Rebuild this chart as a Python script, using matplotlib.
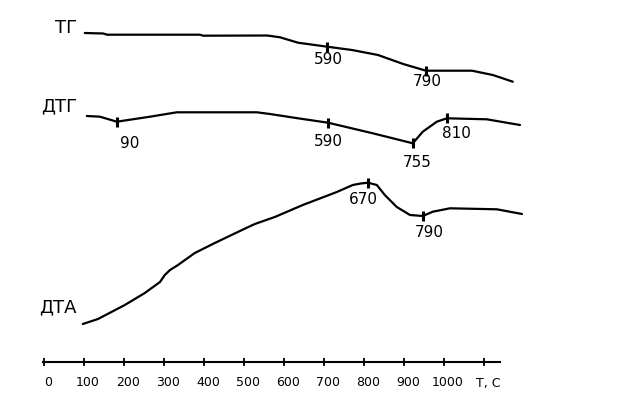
import matplotlib
matplotlib.use("Agg")
import matplotlib.pyplot as plt

# Temperature axis
axis_ticks = [0, 100, 200, 300, 400, 500, 600, 700, 800, 900, 1000, 1100]
axis_labels = ["0", "100", "200", "300", "400", "500", "600", "700", "800", "900", "1000", "T, C"]

# TG curve (x in axis temperature units, y arbitrary signal units)
tg_t = [102, 148, 158, 390, 398, 558, 590, 635, 708, 770, 835, 898, 955, 1070, 1122, 1172]
tg_y = [366, 365.5, 364.3, 364.3, 363.3, 363.5, 361.7, 356.3, 352.3, 349, 344, 335, 328.3, 328.3, 324, 317.3]
tg_mark_t = [708, 955]
tg_mark_y = [352.3, 328.3]
tg_mark_lbl = ["590", "790"]

# DTG curve
dtg_t = [107, 140, 182, 265, 332, 532, 565, 635, 710, 822, 922, 947, 982, 1007, 1107, 1190]
dtg_y = [283, 282.3, 277.3, 282.3, 286.7, 286.7, 285, 280.7, 276.3, 265.7, 255.7, 267.3, 277.3, 280.7, 279.7, 274]
dtg_mark_t = [182, 710, 922, 1007]
dtg_mark_y = [277.3, 276.3, 255.7, 280.7]
dtg_mark_lbl = ["90", "590", "755", "810"]

# DTA curve
dta_t = [97, 135, 202, 252, 290, 302, 315, 335, 377, 427, 495, 527, 577, 647, 732, 772, 792, 810,
         832, 852, 882, 915, 947, 972, 1015, 1132, 1195]
dta_y = [75, 80, 94, 106, 117, 124, 129, 134, 146, 156, 169, 175, 182, 194, 207, 214, 215.5, 216.3,
         214, 204, 192, 184, 183, 187.3, 190.7, 189.7, 185]
dta_mark_t = [810, 947]
dta_mark_y = [216.3, 183]
dta_mark_lbl = ["670", "790"]

curve_names = ["ТГ", "ДТГ", "ДТА"]

fig = plt.figure(figsize=(6.31, 3.99), dpi=100)
ax = fig.add_axes([0, 0, 1, 1])
ax.set_xlim(-110, 1467.5)
ax.set_ylim(0, 399)
ax.axis("off")

lw = 1.6
for t, y in [(tg_t, tg_y), (dtg_t, dtg_y), (dta_t, dta_y)]:
    ax.plot(t, y, color="black", lw=lw, solid_joinstyle="round", solid_capstyle="round")

for mt, my in [(tg_mark_t, tg_mark_y), (dtg_mark_t, dtg_mark_y), (dta_mark_t, dta_mark_y)]:
    ax.plot(mt, my, ls="none", marker="|", ms=7.5, mew=2.2, color="black")

# value labels (offsets in axis units)
lbl_fs = 11
tg_off = [(2, -12.3), (2, -10.3)]
for (t, y, s), (dx, dy) in zip(zip(tg_mark_t, tg_mark_y, tg_mark_lbl), tg_off):
    ax.text(t + dx, y + dy, s, ha="center", va="center", fontsize=lbl_fs)
dtg_off = [(33, -22), (0, -18.3), (10, -19), (25, -15.7)]
for (t, y, s), (dx, dy) in zip(zip(dtg_mark_t, dtg_mark_y, dtg_mark_lbl), dtg_off):
    ax.text(t + dx, y + dy, s, ha="center", va="center", fontsize=lbl_fs)
dta_off = [(-12.5, -16.3), (17, -16.5)]
for (t, y, s), (dx, dy) in zip(zip(dta_mark_t, dta_mark_y, dta_mark_lbl), dta_off):
    ax.text(t + dx, y + dy, s, ha="center", va="center", fontsize=lbl_fs)

# curve names
name_y = [371, 293, 92]
for s, y in zip(curve_names, name_y):
    ax.text(82, y, s, ha="right", va="center", fontsize=13)

# temperature axis
axis_y = 37
ax.plot([-3, 1140], [axis_y, axis_y], color="black", lw=1.5)
ax.plot(axis_ticks, [axis_y] * len(axis_ticks), ls="none", marker="|", ms=6, mew=1.3, color="black")
for t, s in zip(axis_ticks, axis_labels):
    ax.text(t + 10, 16, s, ha="center", va="center", fontsize=9)

fig.savefig("out.png", dpi=100, facecolor="white")
